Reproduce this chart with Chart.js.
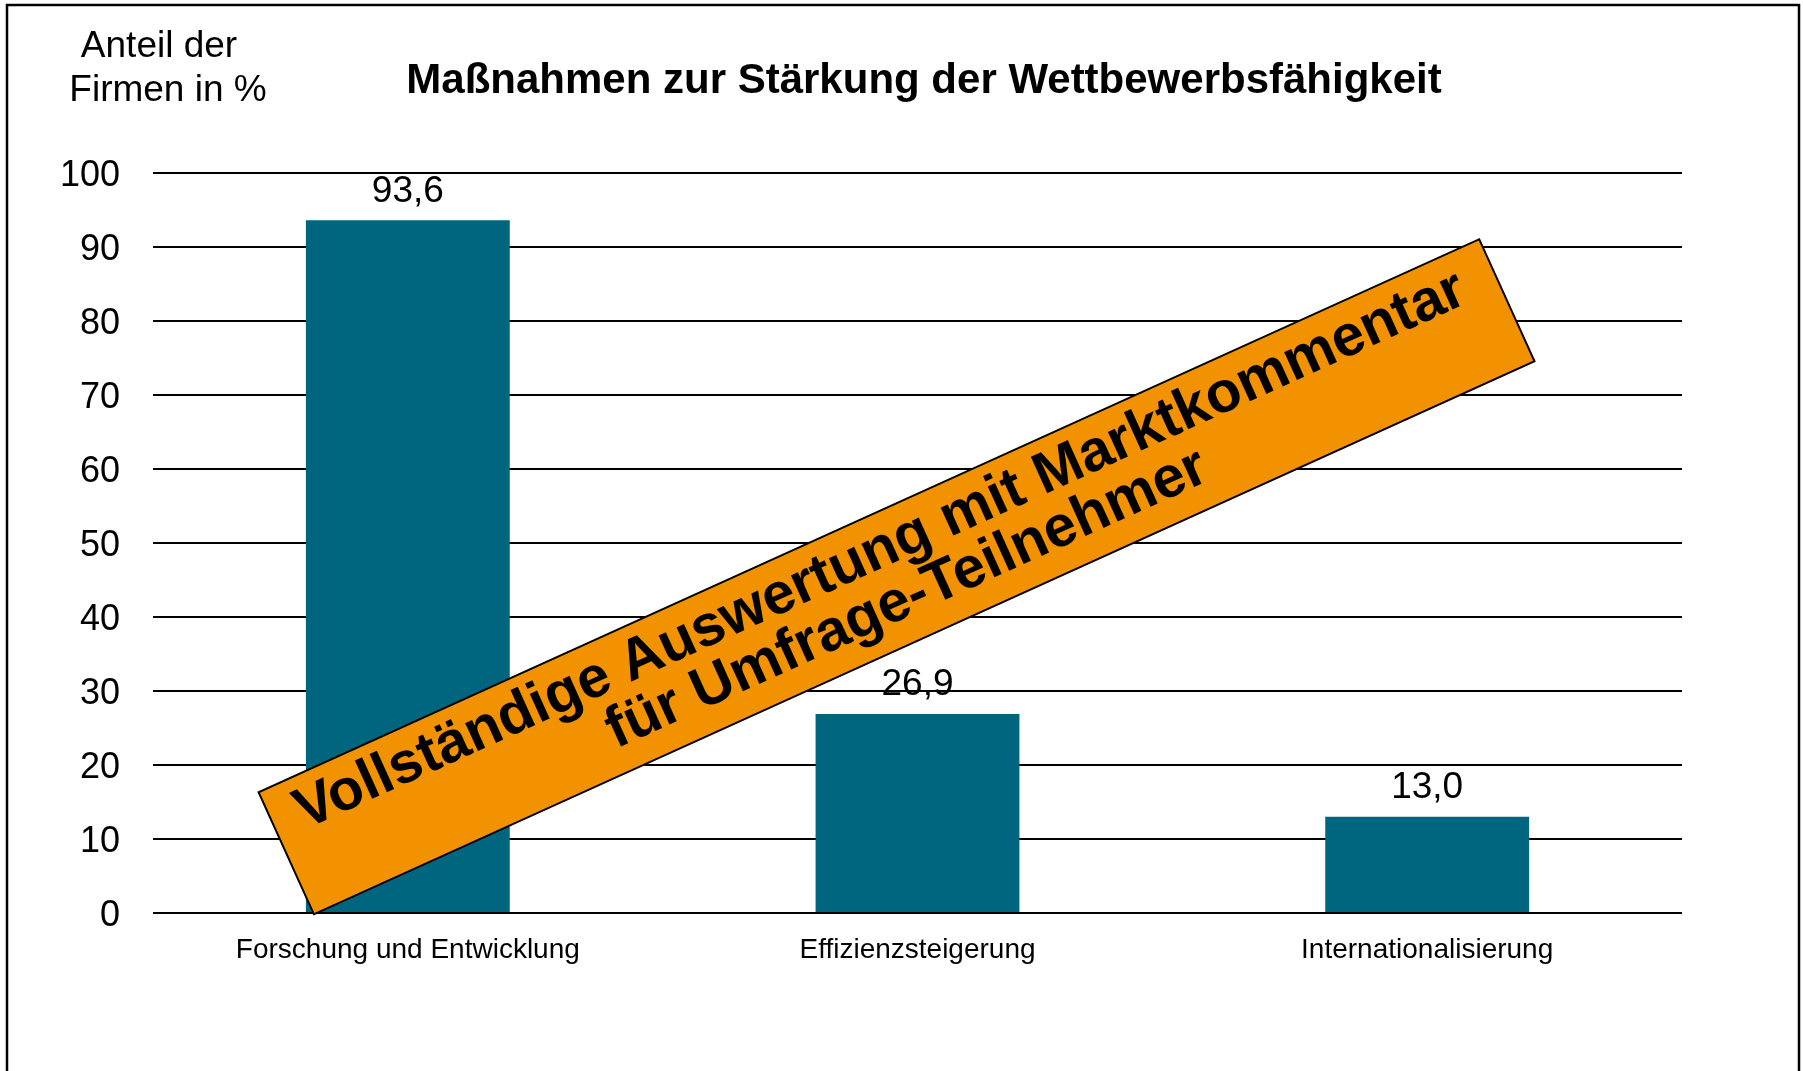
<!DOCTYPE html>
<html>
<head>
<meta charset="utf-8">
<script src="https://cdn.jsdelivr.net/npm/chart.js@4.4.1/dist/chart.umd.min.js"></script>
<style>
  html, body { margin: 0; padding: 0; background: #fff; }
  #wrap { width: 1803px; height: 1071px; }
</style>
</head>
<body>
<div id="wrap"><canvas id="chart1" width="1803" height="1071"></canvas></div>
<script>
const categories = ['Forschung und Entwicklung', 'Effizienzsteigerung', 'Internationalisierung']
const shares = [93.6, 26.9, 13.0]
const yTicks = [0, 10, 20, 30, 40, 50, 60, 70, 80, 90, 100]

const titleText = 'Maßnahmen zur Stärkung der Wettbewerbsfähigkeit'
const yTitle = ['Anteil der', 'Firmen in %']
const bannerLines = ['Vollständige Auswertung mit Marktkommentar', 'für Umfrage-Teilnehmer']

const FONT = "'Liberation Sans', Arial, sans-serif"

// frame + white background
const framePlugin = {
    id: 'frame',
    beforeDraw(chart) {
        const c = chart.ctx
        c.save()
        c.fillStyle = '#fff'
        c.fillRect(0, 0, chart.width, chart.height)
        c.strokeStyle = '#000'
        c.lineWidth = 2.5
        c.strokeRect(7, 5, 1792, 1100)
        c.restore()
    }
}

// title and y axis caption
const textPlugin = {
    id: 'texts',
    afterDraw(chart) {
        const c = chart.ctx
        c.save()
        c.fillStyle = '#000'
        c.textBaseline = 'middle'
        c.textAlign = 'center'
        c.font = 'bold 42px ' + FONT
        c.fillText(titleText, 924, 81)
        c.font = '37px ' + FONT
        c.fillText(yTitle[0], 159, 47)
        c.fillText(yTitle[1], 168, 91)
        c.restore()
    }
}

const valuePlugin = {
    id: 'values',
    afterDatasetsDraw(chart) {
        const c = chart.ctx
        const meta = chart.getDatasetMeta(0)
        c.save()
        c.fillStyle = '#000'
        c.font = '37px ' + FONT
        c.textAlign = 'center'
        c.textBaseline = 'middle'
        meta.data.forEach((bar, i) => {
            c.fillText(shares[i].toFixed(1).replace('.', ','), bar.x, bar.y - 29)
        })
        c.restore()
    }
}

// orange banner across the plot
const bannerPlugin = {
    id: 'banner',
    afterDraw(chart) {
        const a = chart.chartArea
        const c = chart.ctx
        const cx = a.left + (a.right - a.left) * 0.4863
        const cy = a.top + (a.bottom - a.top) * 0.5456
        const w = 1340, h = 134
        c.save()
        c.translate(cx, cy)
        c.rotate(-24.37 * Math.PI / 180)
        c.fillStyle = '#F39200'
        c.strokeStyle = '#000'
        c.lineWidth = 2
        c.fillRect(-w / 2, -h / 2, w, h)
        c.strokeRect(-w / 2, -h / 2, w, h)
        c.fillStyle = '#000'
        c.font = 'bold 58px ' + FONT
        c.textAlign = 'center'
        c.textBaseline = 'alphabetic'
        c.fillText(bannerLines[0], -4, -14)
        c.fillText(bannerLines[1], 0, 41)
        c.restore()
    }
}

new Chart(document.getElementById('chart1'), {
    type: 'bar',
    data: {
        labels: categories,
        datasets: [{
            data: shares,
            backgroundColor: '#006680',
            borderWidth: 0,
            categoryPercentage: 1,
            barPercentage: 0.4
        }]
    },
    options: {
        responsive: false,
        animation: false,
        layout: { padding: { top: 173, right: 121, left: 0, bottom: 0 } },
        plugins: {
            legend: { display: false },
            title: { display: false },
            tooltip: { enabled: false }
        },
        scales: {
            x: {
                grid: { display: false },
                border: { display: false },
                ticks: {
                    color: '#000',
                    font: { size: 28, family: FONT },
                    padding: 12,
                    maxRotation: 0
                },
                afterFit: axis => { axis.height = 158 }
            },
            y: {
                min: 0,
                max: 100,
                afterBuildTicks: axis => { axis.ticks = yTicks.map(v => ({ value: v })) },
                grid: { color: '#000', lineWidth: 2, drawTicks: false },
                border: { display: false },
                ticks: {
                    color: '#000',
                    font: { size: 36, family: FONT },
                    padding: 33,
                    labelOffset: 3
                },
                afterFit: axis => { axis.width = 153 }
            }
        }
    },
    plugins: [framePlugin, textPlugin, valuePlugin, bannerPlugin]
})
</script>
</body>
</html>
